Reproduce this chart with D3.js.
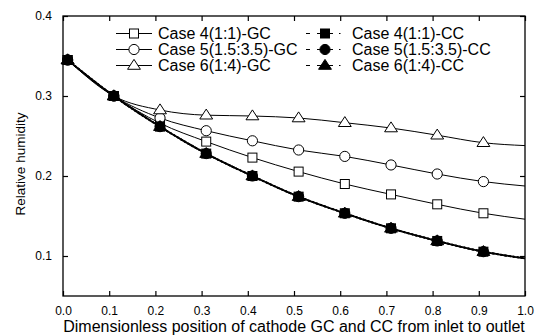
<!DOCTYPE html>
<html>
<head>
<meta charset="utf-8">
<script src="https://cdn.jsdelivr.net/npm/d3@7"></script>
<style>
  html, body { margin: 0; padding: 0; background: #fff; }
  svg { display: block; font-family: "Liberation Sans", Arial, sans-serif; }
</style>
</head>
<body>
<svg id="chart" width="539" height="335"></svg>
<script>
// marker positions along the channel, the curves run on to the outlet (1.0)
const markerX = [0.01, 0.11, 0.21, 0.31, 0.41, 0.51, 0.61, 0.71, 0.81, 0.91];
const outletX = 1.0;

const case4GC = [0.345, 0.300, 0.266, 0.243, 0.223, 0.2055, 0.190, 0.177, 0.1646, 0.1534];
const case5GC = [0.345, 0.300, 0.2725, 0.2566, 0.244, 0.2325, 0.2245, 0.2138, 0.2025, 0.193];
const case6GC = [0.345, 0.300, 0.2825, 0.276, 0.275, 0.2725, 0.2666, 0.260, 0.251, 0.2416];
const case4CC = [0.345, 0.300, 0.2617, 0.228, 0.200, 0.1742, 0.1534, 0.1346, 0.1188, 0.1054];
const case5CC = [0.345, 0.300, 0.2617, 0.228, 0.200, 0.1742, 0.1534, 0.1346, 0.1188, 0.1054];
const case6CC = [0.345, 0.300, 0.2617, 0.228, 0.200, 0.1742, 0.1534, 0.1346, 0.1188, 0.1054];
const outletValues = [0.146, 0.1875, 0.238, 0.097, 0.097, 0.097];

const seriesNames = [
  "Case 4(1:1)-GC", "Case 5(1.5:3.5)-GC", "Case 6(1:4)-GC",
  "Case 4(1:1)-CC", "Case 5(1.5:3.5)-CC", "Case 6(1:4)-CC"
];
const seriesShapes = ["square", "circle", "triangle", "square", "circle", "triangle"];

const xTicks = [0.0, 0.1, 0.2, 0.3, 0.4, 0.5, 0.6, 0.7, 0.8, 0.9, 1.0];
const yTicks = [0.1, 0.2, 0.3, 0.4];

const svg = d3.select("#chart");
const margin = { top: 16, right: 14, bottom: 39, left: 63 };
const W = 539, H = 335;
const w = W - margin.left - margin.right;
const h = H - margin.top - margin.bottom;

const x = d3.scaleLinear().domain([0, 1]).range([margin.left, margin.left + w]);
const y = d3.scaleLinear().domain([0.05, 0.4]).range([margin.top + h, margin.top]);

const series = [case4GC, case5GC, case6GC, case4CC, case5CC, case6CC].map((vals, i) => ({
  name: seriesNames[i],
  shape: seriesShapes[i],
  filled: i >= 3,
  points: markerX.map((xv, j) => [xv, vals[j]]),
  line: markerX.map((xv, j) => [xv, vals[j]]).concat([[outletX, outletValues[i]]])
}));

// frame
svg.append("rect")
  .attr("x", margin.left).attr("y", margin.top)
  .attr("width", w).attr("height", h)
  .attr("fill", "none").attr("stroke", "#000").attr("stroke-width", 1.3);

// axes with inside ticks, mirrored on top / right
const tk = 5;
const gx = svg.append("g").attr("transform", `translate(0,${margin.top + h})`)
  .call(d3.axisBottom(x).tickValues(xTicks).tickSizeInner(-tk).tickSizeOuter(0).tickPadding(10).tickFormat(d3.format(".1f")));
const gxt = svg.append("g").attr("transform", `translate(0,${margin.top})`)
  .call(d3.axisTop(x).tickValues(xTicks).tickSizeInner(-tk).tickSizeOuter(0).tickFormat(""));
const gy = svg.append("g").attr("transform", `translate(${margin.left},0)`)
  .call(d3.axisLeft(y).tickValues(yTicks).tickSizeInner(-tk).tickSizeOuter(0).tickPadding(11).tickFormat(d3.format(".1f")));
const gyr = svg.append("g").attr("transform", `translate(${margin.left + w},0)`)
  .call(d3.axisRight(y).tickValues(yTicks).tickSizeInner(-tk).tickSizeOuter(0).tickFormat(""));

[gx, gxt, gy, gyr].forEach(g => {
  g.select(".domain").remove();
  g.selectAll("line").attr("stroke", "#000").attr("stroke-width", 1.2);
  g.selectAll("text").attr("fill", "#000").attr("font-size", 12)
    .attr("font-family", "Liberation Sans, Arial, sans-serif");
});

// axis titles
svg.append("text")
  .attr("x", margin.left + w / 2).attr("y", 332)
  .attr("text-anchor", "middle").attr("font-size", 16)
  .text("Dimensionless position of cathode GC and CC from inlet to outlet");

svg.append("text")
  .attr("transform", `translate(25,${margin.top + h / 2 + 8}) rotate(-90)`)
  .attr("text-anchor", "middle").attr("font-size", 13.5)
  .text("Relative humidity");

// curves
const lineGen = d3.line().x(d => x(d[0])).y(d => y(d[1])).curve(d3.curveMonotoneX);
const plot = svg.append("g");

series.forEach((s, i) => {
  const p = plot.append("path")
    .attr("d", lineGen(s.line))
    .attr("fill", "none")
    .attr("stroke", "#000")
    .attr("stroke-width", s.filled ? 1.8 : 1);
  if (s.filled) {
    // dash-dot, the three CC curves lie on top of each other
    p.attr("stroke-dasharray", "7,2,1.5,2").attr("stroke-dashoffset", (i - 3) * 4);
  }
});

function drawMarker(g, shape, cx, cy, filled, size) {
  const fill = filled ? "#000" : "#fff";
  if (shape === "square") {
    g.append("rect").attr("x", cx - size / 2).attr("y", cy - size / 2)
      .attr("width", size).attr("height", size)
      .attr("fill", fill).attr("stroke", "#000").attr("stroke-width", 1);
  } else if (shape === "circle") {
    g.append("circle").attr("cx", cx).attr("cy", cy).attr("r", size / 2 + 0.6)
      .attr("fill", fill).attr("stroke", "#000").attr("stroke-width", 1);
  } else {
    const r = size * 0.68;
    const pts = [[cx, cy - r], [cx + r * 1.05, cy + r * 0.62], [cx - r * 1.05, cy + r * 0.62]];
    g.append("path").attr("d", "M" + pts.map(p => p.join(",")).join("L") + "Z")
      .attr("fill", fill).attr("stroke", "#000").attr("stroke-width", 1);
  }
}

series.forEach(s => {
  s.points.forEach(d => drawMarker(plot, s.shape, x(d[0]), y(d[1]), s.filled, 9));
});

// legend
const legend = svg.append("g").attr("font-size", 16);
const legendRows = [33.5, 49.5, 65.5];
series.forEach((s, i) => {
  const row = legendRows[i % 3];
  if (!s.filled) {
    legend.append("line").attr("x1", 116).attr("x2", 152).attr("y1", row).attr("y2", row)
      .attr("stroke", "#000").attr("stroke-width", 1);
    drawMarker(legend, s.shape, 134, row, false, 9);
    legend.append("text").attr("x", 158).attr("y", row + 5.5).text(s.name);
  } else {
    legend.append("line").attr("x1", 306).attr("x2", 346).attr("y1", row).attr("y2", row)
      .attr("stroke", "#000").attr("stroke-width", 1.2)
      .attr("stroke-dasharray", "4,7,16,6,1.5,10");
    drawMarker(legend, s.shape, 325, row, true, 9);
    legend.append("text").attr("x", 352).attr("y", row + 5.5).text(s.name);
  }
});
</script>
</body>
</html>
